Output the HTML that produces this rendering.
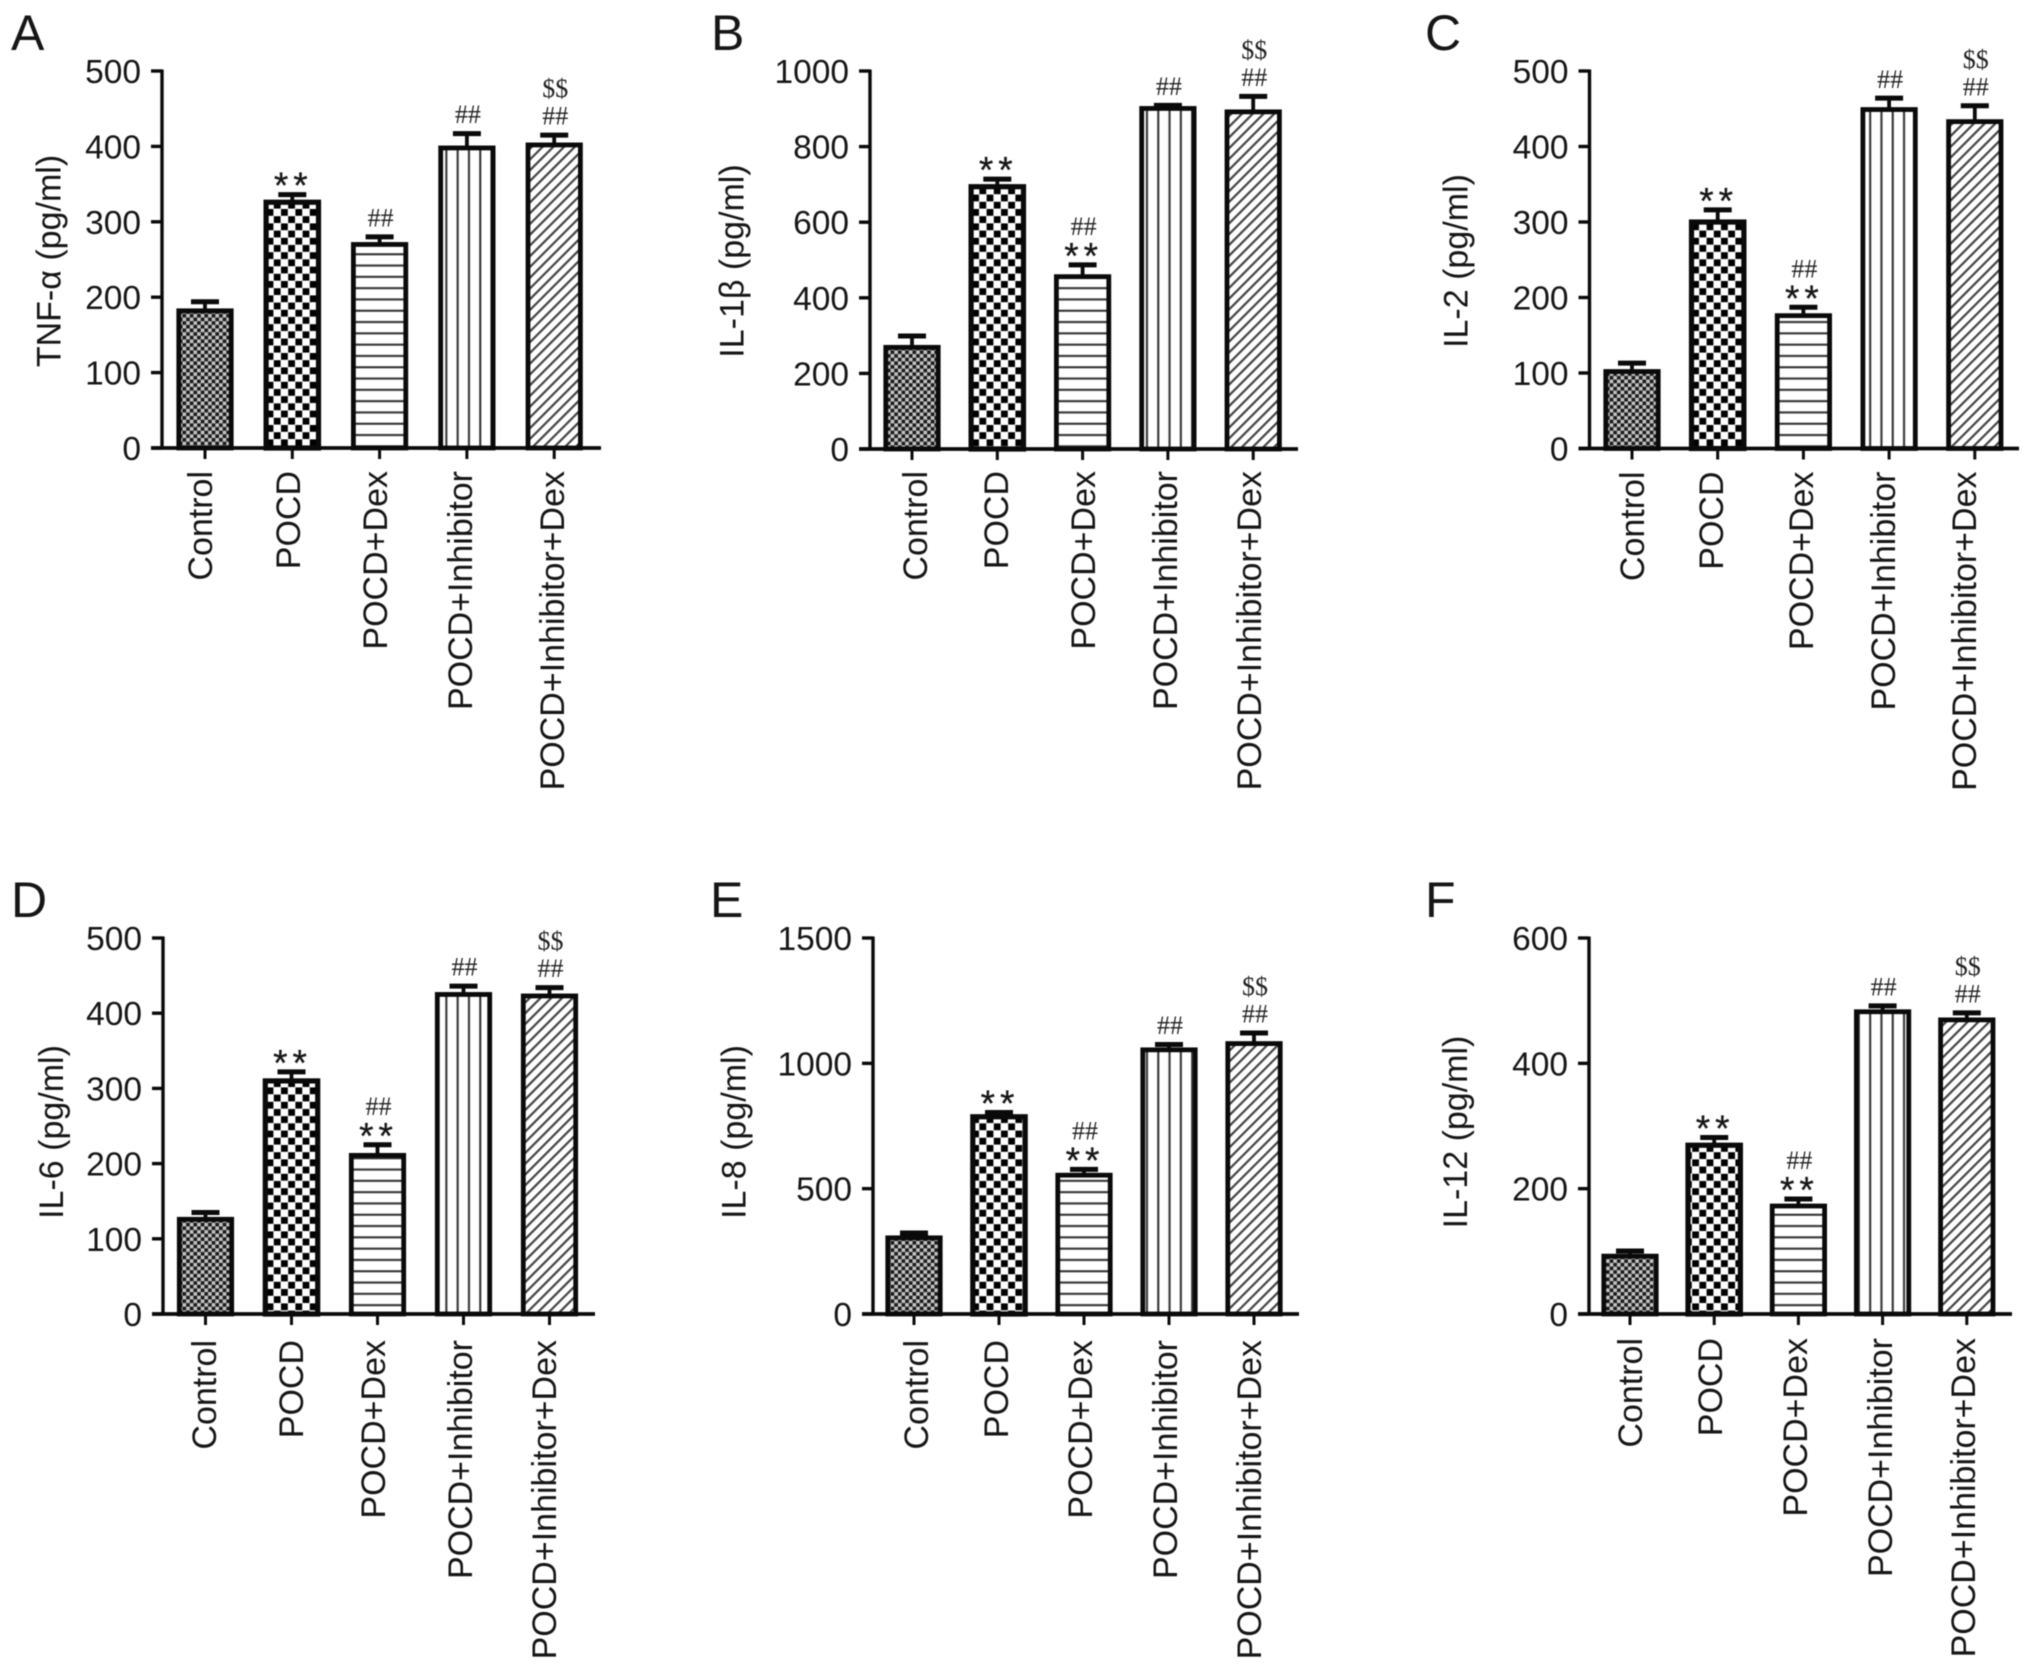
<!DOCTYPE html>
<html lang="en">
<head>
<meta charset="utf-8">
<title>Cytokine levels by treatment group</title>
<style>
html,body{margin:0;padding:0;background:#fff;}
#figure{display:block;width:2032px;height:1666px;filter:blur(0.6px);}
text{font-family:"Liberation Sans",sans-serif;fill:#161616;}
.serif{font-family:"Liberation Serif",serif;fill:#222;}
.star{stroke:#222;stroke-width:0.3px;}
</style>
</head>
<body>
<svg id="figure" xmlns="http://www.w3.org/2000/svg" width="2032" height="1666" viewBox="0 0 2032 1666">
<defs>
<pattern id="pat-0" patternUnits="userSpaceOnUse" width="7.3" height="7.3"><rect width="7.3" height="7.3" fill="#c4c4c4"/><rect width="3.65" height="3.65" fill="#1a1a1a"/><rect x="3.65" y="3.65" width="3.65" height="3.65" fill="#1a1a1a"/></pattern>
<pattern id="pat-1" patternUnits="userSpaceOnUse" width="14.4" height="14.4"><rect width="14.4" height="14.4" fill="#fff"/><rect x="0.2" y="0.2" width="6.8" height="6.8" fill="#000"/><rect x="7.4" y="7.4" width="6.8" height="6.8" fill="#000"/></pattern>
<pattern id="pat-2" patternUnits="userSpaceOnUse" width="11.3" height="11.3"><rect width="11.3" height="11.3" fill="#fff"/><rect y="4.6" width="11.3" height="2.1" fill="#333"/></pattern>
<pattern id="pat-3" patternUnits="userSpaceOnUse" width="11.3" height="11.3"><rect width="11.3" height="11.3" fill="#fff"/><rect x="4.6" width="2.1" height="11.3" fill="#333"/></pattern>
<pattern id="pat-4" patternUnits="userSpaceOnUse" width="7.6" height="7.6" patternTransform="rotate(-45)"><rect width="7.6" height="7.6" fill="#fff"/><rect width="7.6" height="2.2" fill="#444"/></pattern>
</defs>
</svg>
<script>
// ---- Chart data ----
const categories = ['Control', 'POCD', 'POCD+Dex', 'POCD+Inhibitor', 'POCD+Inhibitor+Dex'];

const ticksA = [0, 100, 200, 300, 400, 500];
const valuesA = [185, 329, 273, 401, 405];
const errorsA = [11, 9, 9, 18, 12];
const marksA = [[], ['**'], ['##'], ['##'], ['##', '$$']];

const ticksB = [0, 200, 400, 600, 800, 1000];
const valuesB = [275, 700, 462, 907, 898];
const errorsB = [28, 18, 29, 6, 39];
const marksB = [[], ['**'], ['**', '##'], ['##'], ['##', '$$']];

const ticksC = [0, 100, 200, 300, 400, 500];
const valuesC = [105, 303, 179, 452, 436];
const errorsC = [10, 15, 10, 14, 20];
const marksC = [[], ['**'], ['**', '##'], ['##'], ['##', '$$']];

const ticksD = [0, 100, 200, 300, 400, 500];
const valuesD = [129, 313, 214, 428, 426];
const errorsD = [8, 11, 13, 10, 10];
const marksD = [[], ['**'], ['**', '##'], ['##'], ['##', '$$']];

const ticksE = [0, 500, 1000, 1500];
const valuesE = [313, 796, 563, 1063, 1088];
const errorsE = [16, 14, 20, 18, 39];
const marksE = [[], ['**'], ['**', '##'], ['##'], ['##', '$$']];

const ticksF = [0, 200, 400, 600];
const valuesF = [96, 273, 176, 486, 473];
const errorsF = [7, 11, 10, 8, 10];
const marksF = [[], ['**'], ['**', '##'], ['##'], ['##', '$$']];

// ---- Panel layout ----
const panels = [
  {id:'a', letter:'A', letterX:13,   letterY:50,  title:'TNF-α (pg/ml)', ticks:ticksA, values:valuesA, errors:errorsA, marks:marksA,
   axisX:162,  top:71,  base:448,  xEnd:601,  first:205,  step:87.3, titleX:60.5, titleY:261,  labelGap:23, labelX:[212,300,387,472,564]},
  {id:'b', letter:'B', letterX:713,  letterY:50,  title:'IL-1β (pg/ml)', ticks:ticksB, values:valuesB, errors:errorsB, marks:marksB,
   axisX:870,  top:71,  base:449,  xEnd:1298, first:912,  step:85.3, titleX:743.5, titleY:261, labelGap:22, labelX:[927,1008,1095,1177,1261]},
  {id:'c', letter:'C', letterX:1427, letterY:50,  title:'IL-2 (pg/ml)',  ticks:ticksC, values:valuesC, errors:errorsC, marks:marksC,
   axisX:1589.5, top:71, base:448.5, xEnd:2019, first:1632, step:85.7, titleX:1467.6, titleY:261, labelGap:23, labelX:[1644,1723,1813,1895,1976]},
  {id:'d', letter:'D', letterX:13,   letterY:917, title:'IL-6 (pg/ml)',  ticks:ticksD, values:valuesD, errors:errorsD, marks:marksD,
   axisX:163,  top:938, base:1314, xEnd:595,  first:205.5, step:86, titleX:63, titleY:1132, labelGap:26, labelX:[216,303,385,472,556]},
  {id:'e', letter:'E', letterX:712,  letterY:917, title:'IL-8 (pg/ml)',  ticks:ticksE, values:valuesE, errors:errorsE, marks:marksE,
   axisX:873,  top:938, base:1314, xEnd:1299, first:914,  step:85, titleX:745.6, titleY:1132, labelGap:26, labelX:[928,1008,1092,1177,1261]},
  {id:'f', letter:'F', letterX:1427, letterY:917, title:'IL-12 (pg/ml)', ticks:ticksF, values:valuesF, errors:errorsF, marks:marksF,
   axisX:1589, top:938, base:1314, xEnd:2012, first:1630, step:84.2, titleX:1467, titleY:1132, labelGap:24, labelX:[1642,1722,1807,1892,1975]}
];

const SVGNS = 'http://www.w3.org/2000/svg';
const root = document.getElementById('figure');
const FONT = 34;
const TICK_FONT = 33.5;
const STROKE = '#0a0a0a';

function make(tag, parent, attrs) {
  const el = document.createElementNS(SVGNS, tag);
  for (const k in attrs) el.setAttribute(k, attrs[k]);
  parent.appendChild(el);
  return el;
}

panels.forEach(function (p) {
  const maxV = p.ticks[p.ticks.length - 1];
  const yOf = function (v) { return p.base - (v / maxV) * (p.base - p.top); };
  const xOf = function (i) { return p.first + i * p.step; };

  const g = make('g', root, {});
  
  

  const letter = make('text', g, {x: p.letterX - 2, y: p.letterY, 'font-size': 50});
  letter.textContent = p.letter;
  
  

  const title = make('text', g, {x: p.titleX, y: p.titleY, 'font-size': FONT, 'text-anchor': 'middle',
    transform: 'rotate(-90 ' + p.titleX + ' ' + p.titleY + ')'});
  title.textContent = p.title;
  
  

  // bars, drawn before axes so the baseline sits on top
  p.values.forEach(function (v, i) {
    const cx = xOf(i);
    const halfW = 26.2;
    const capV = v + p.errors[i];
    const barTop = yOf(v) + 2.3;
    const capY = yOf(capV) + 1.5;

    const stem = make('line', g, {x1: cx, x2: cx, y1: barTop, y2: capY, stroke: STROKE, 'stroke-width': 3.8});
    
    

    const cap = make('line', g, {x1: cx - 14, x2: cx + 14, y1: capY, y2: capY, stroke: STROKE, 'stroke-width': 5});
    
    

    const bar = make('rect', g, {x: cx - halfW, y: barTop, width: 2 * halfW, height: p.base - barTop,
      fill: 'url(#pat-' + i + ')', stroke: STROKE, 'stroke-width': i === 1 ? 5.2 : 4.8});
    
    

    let markY = yOf(capV) - 16;
    p.marks[i].forEach(function (m, j) {
      const isStar = m === '**';
      const size = isStar ? 37 : 26;
      if (!isStar && j === 0) markY -= 1.5;
      const t = make('text', g, {x: cx + 1, y: markY + (isStar ? 0.57 * size : 0.33 * size),
        'font-size': size, 'text-anchor': 'middle', 'letter-spacing': isStar ? 5 : 0});
      t.textContent = m;
      t.setAttribute('class', isStar ? 'star' : 'serif');
      
      
      markY -= isStar ? 21 : 27.5;
    });

    const tick = make('line', g, {x1: cx, x2: cx, y1: p.base, y2: p.base + 11, stroke: STROKE, 'stroke-width': 3});
    
    

    const lx = p.labelX[i];
    const ly = p.base + p.labelGap;
    const label = make('text', g, {x: lx, y: ly, 'font-size': FONT, 'text-anchor': 'end',
      transform: 'rotate(-90 ' + lx + ' ' + ly + ')'});
    label.textContent = categories[i];
    
    
  });

  // axes
  const yAxis = make('line', g, {x1: p.axisX, x2: p.axisX, y1: p.top - 1.5, y2: p.base, stroke: STROKE, 'stroke-width': 3.4});
  
  

  const xAxis = make('line', g, {x1: p.axisX - 11, x2: p.xEnd, y1: p.base, y2: p.base, stroke: STROKE, 'stroke-width': 3.8});
  
  

  p.ticks.forEach(function (v) {
    const y = yOf(v);
    const tick = make('line', g, {x1: p.axisX - 11, x2: p.axisX, y1: y, y2: y, stroke: STROKE, 'stroke-width': 3.4});
    
    

    const label = make('text', g, {x: p.axisX - 21, y: y + 12, 'font-size': TICK_FONT, 'text-anchor': 'end'});
    label.textContent = String(v);
    
    
  });
});
</script>
</body>
</html>
